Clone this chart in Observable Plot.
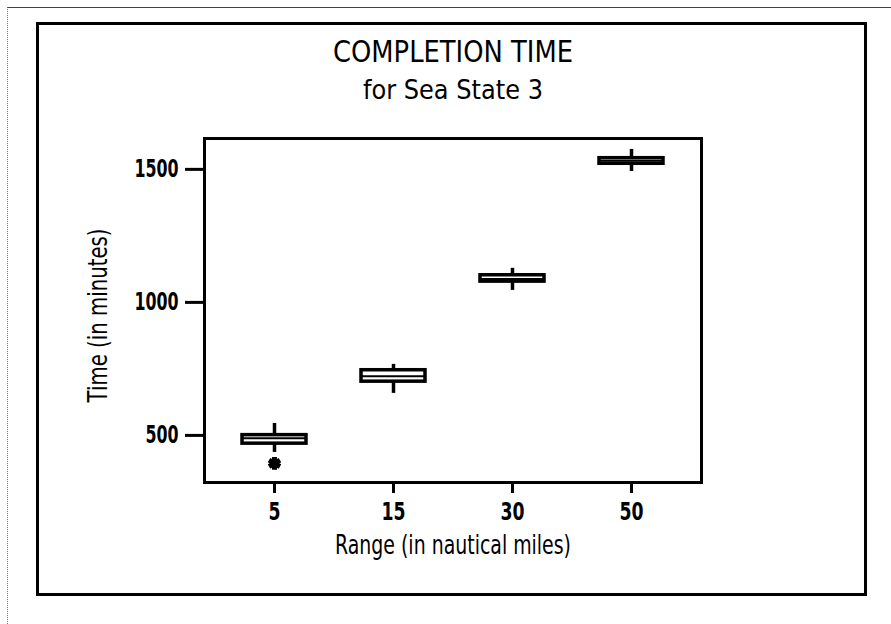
<!DOCTYPE html>
<html>
<head>
<meta charset="utf-8">
<script src="https://cdn.jsdelivr.net/npm/d3@7"></script>
<script src="https://cdn.jsdelivr.net/npm/@observablehq/plot@0.6"></script>
<style>
  html, body { margin: 0; padding: 0; background: #fff; }
  #wrap { position: relative; width: 891px; height: 624px; overflow: hidden; }
  #page { position: absolute; left: 7px; top: 7px; width: 884px; height: 617px;
          border-top: 1px solid #444; border-left: 1px dotted #777; box-sizing: border-box; }
  #box { position: absolute; left: 36px; top: 22px; width: 831px; height: 574px;
         border: 3px solid #000; box-sizing: border-box; }
  #chart { position: absolute; left: 0; top: 0; }
  svg text { font-family: "DejaVu Sans", sans-serif; }
</style>
</head>
<body>
<div id="wrap">
  <div id="page"></div>
  <div id="box"></div>
  <div id="chart"></div>
</div>
<script>
// Data
const ranges   = ["5", "15", "30", "50"];
const lows     = [436, 658, 1045, 1492];
const q1s      = [469, 702, 1078, 1521];
const medians  = [489, 722, 1088, 1532];
const q3s      = [501, 745, 1102, 1542];
const highs    = [545, 767, 1128, 1575];
const outlierRange = ["5"];
const outlierTime  = [395];
const yTicks = [500, 1000, 1500];
const titleText = "COMPLETION TIME";
const subtitleText = "for Sea State 3";
const xLabel = "Range (in nautical miles)";
const yLabel = "Time (in minutes)";

const boxes = ranges.map((r, i) => ({range: r, low: lows[i], q1: q1s[i], med: medians[i], q3: q3s[i], high: highs[i]}));
const outliers = outlierRange.map((r, i) => ({range: r, time: outlierTime[i]}));

const chart = Plot.plot({
  width: 891,
  height: 624,
  marginTop: 138,
  marginLeft: 204,
  marginRight: 190,
  marginBottom: 142,
  style: {background: "transparent", color: "#000"},
  x: {type: "band", domain: ranges, paddingInner: 0.46, paddingOuter: 0.315, label: null},
  y: {domain: [323, 1616], label: null},
  marks: [
    Plot.frame({stroke: "#000", strokeWidth: 3}),
    Plot.axisY({ticks: yTicks, tickFormat: d => String(d), tickSize: 19, tickPadding: 7, strokeWidth: 3,
                label: null, fontSize: 24, fontWeight: "bold"}),
    Plot.axisX({tickSize: 11, tickPadding: 9, strokeWidth: 3, label: null, fontSize: 24, fontWeight: "bold"}),
    // whiskers
    Plot.ruleX(boxes, {x: "range", y1: "low", y2: "q1", stroke: "#000", strokeWidth: 3.5}),
    Plot.ruleX(boxes, {x: "range", y1: "q3", y2: "high", stroke: "#000", strokeWidth: 3.5}),
    // boxes
    Plot.barY(boxes, {x: "range", y1: "q1", y2: "q3", fill: "#fff", stroke: "#000", strokeWidth: 3.5}),
    Plot.tickY(boxes, {x: "range", y: "med", stroke: "#000", strokeWidth: 2}),
    // outlier
    Plot.dot(outliers, {x: "range", y: "time", symbol: "asterisk", r: 6, stroke: "#000", strokeWidth: 5}),
    // titles and labels
    Plot.text([titleText], {frameAnchor: "top", dy: -86, fontSize: 30, lineAnchor: "middle", fill: "#000"}),
    Plot.text([subtitleText], {frameAnchor: "top", dy: -48, fontSize: 27, lineAnchor: "middle", fill: "#000"}),
    Plot.text([xLabel], {frameAnchor: "bottom", dy: 63, fontSize: 27, lineAnchor: "middle", fill: "#000"}),
    Plot.text([yLabel], {frameAnchor: "left", dx: -106, dy: 5, rotate: -90, textAnchor: "middle", fontSize: 27,
                         lineAnchor: "middle", fill: "#000"})
  ]
});
document.getElementById("chart").appendChild(chart);

// Condense the lettering to mimic the narrow typeface of the original
function squeezeEl(t, len) {
  t.setAttribute("textLength", len);
  t.setAttribute("lengthAdjust", "spacingAndGlyphs");
}
const targetLengths = new Map([[titleText, 240], [subtitleText, 180], [xLabel, 236], [yLabel, 174]]);
chart.querySelectorAll("text").forEach(t => {
  const s = t.textContent;
  if (targetLengths.has(s)) squeezeEl(t, targetLengths.get(s));
});
chart.querySelectorAll('g[aria-label="y-axis tick label"] text').forEach(t => squeezeEl(t, t.getComputedTextLength() * 0.66));
chart.querySelectorAll('g[aria-label="x-axis tick label"] text').forEach(t => squeezeEl(t, t.getComputedTextLength() * 0.72));
</script>
</body>
</html>
